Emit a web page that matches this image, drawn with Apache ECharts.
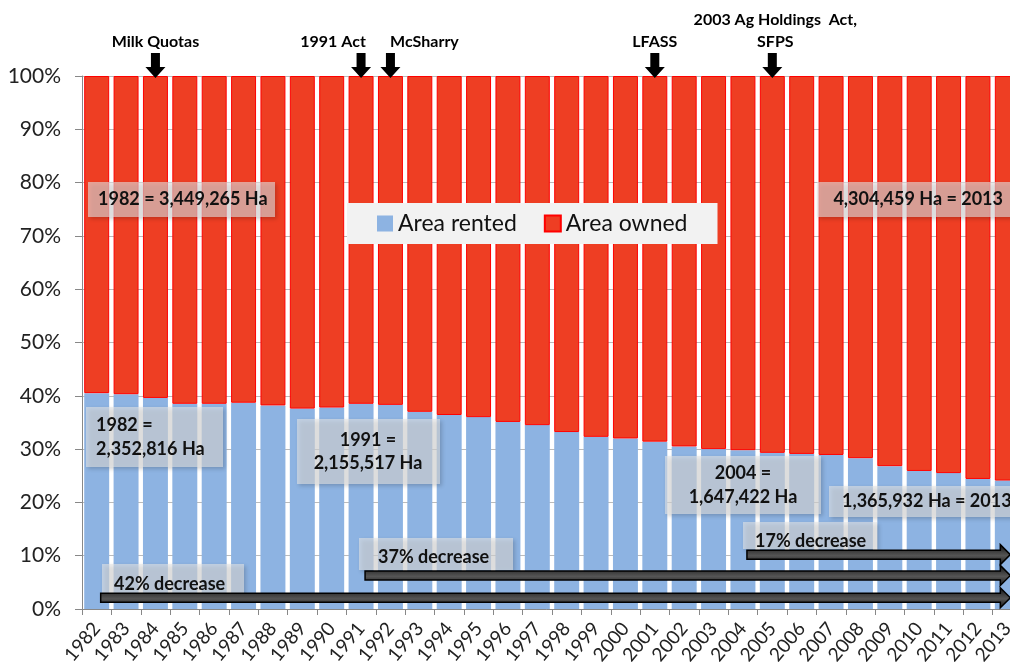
<!DOCTYPE html>
<html>
<head>
<meta charset="utf-8">
<script src="https://cdn.jsdelivr.net/npm/echarts@6/dist/echarts.min.js"></script>
<style>
html,body{margin:0;padding:0;background:#fff;}
#chart{width:1010px;height:671px;}
</style>
</head>
<body>
<div id="chart"></div>
<script>
const years = ['1982','1983','1984','1985','1986','1987','1988','1989','1990','1991','1992','1993','1994','1995','1996','1997','1998','1999','2000','2001','2002','2003','2004','2005','2006','2007','2008','2009','2010','2011','2012','2013'];
const rentedPct = [40.5,40.3,39.6,38.5,38.5,38.7,38.2,37.6,37.8,38.5,38.3,37.0,36.4,36.0,35.1,34.5,33.2,32.3,32.0,31.4,30.5,30.0,29.8,29.3,29.1,28.9,28.3,26.8,25.9,25.5,24.4,24.1];
const ownedPct = [59.5,59.7,60.4,61.5,61.5,61.3,61.8,62.4,62.2,61.5,61.7,63.0,63.6,64.0,64.9,65.5,66.8,67.7,68.0,68.6,69.5,70.0,70.2,70.7,70.9,71.1,71.7,73.2,74.1,74.5,75.6,75.9];
const yTicks = [0,10,20,30,40,50,60,70,80,90,100];
const events = [
  {year:'1984', lines:['Milk Quotas']},
  {year:'1991', lines:['1991 Act'], dx:-28},
  {year:'1992', lines:['McSharry'], dx:34},
  {year:'2001', lines:['LFASS']},
  {year:'2005', lines:['2003 Ag Holdings  Act,','SFPS']}
];
const decreases = [
  {from:'1982', to:'2013', y:2.1, label:'42% decrease'},
  {from:'1991', to:'2013', y:6.3, label:'37% decrease'},
  {from:'2004', to:'2013', y:10.2, label:'17% decrease'}
];

const FONT = 'Lato';
const chart = echarts.init(document.getElementById('chart'));
chart.setOption({
  animation:false,
  grid:{left:82, top:76, width:940, height:533, outerBoundsMode:'none', containLabel:false},
  legend:{
    left:347, top:203, padding:[9,30,9,30], itemGap:27,
    backgroundColor:'#f2f2f2', itemWidth:16, itemHeight:16, icon:'rect',
    textStyle:{fontFamily:FONT, fontSize:23, color:'#111'},
    data:['Area rented','Area owned']
  },
  xAxis:{
    type:'category', data:years,
    axisLine:{lineStyle:{color:'#888'}},
    axisTick:{show:true, length:6, lineStyle:{color:'#888'}},
    axisLabel:{rotate:50, fontFamily:FONT, fontSize:19, color:'#222', margin:16, interval:0}
  },
  yAxis:{
    type:'value', min:0, max:100, interval:10,
    axisLine:{show:true, lineStyle:{color:'#888'}},
    axisTick:{show:true, length:7, lineStyle:{color:'#888'}},
    splitLine:{lineStyle:{color:'#bbb'}},
    axisLabel:{formatter:'{value}%', fontFamily:FONT, fontSize:21, color:'#222', margin:21}
  },
  series:[
    {name:'Area rented', type:'bar', stack:'a', data:rentedPct, barCategoryGap:'15%',
     itemStyle:{color:'#8DB3E2'}},
    {name:'Area owned', type:'bar', stack:'a', data:ownedPct, barCategoryGap:'15%',
     itemStyle:{color:'#EE3E23', borderColor:'#FF0000', borderWidth:1}}
  ]
});

function px(cat, val){ return chart.convertToPixel({xAxisIndex:0,yAxisIndex:0},[cat,val]); }

const g = [];
events.forEach(e=>{
  const p = px(e.year, 100);
  const x = p[0], tip = p[1]+2;
  g.push({type:'polygon', shape:{points:[[x-4.5,tip-25],[x+4.5,tip-25],[x+4.5,tip-11],[x+10,tip-11],[x,tip],[x-10,tip-11],[x-4.5,tip-11]]},
    style:{fill:'#000'}, z:100});
  const n = e.lines.length;
  e.lines.forEach((t,i)=>{
    g.push({type:'text', x:x+(e.dx||0)+(n>1?3:0), y:tip-36-(n-1-i)*22, style:{text:t, fill:'#000', font:'bold 16px '+FONT, align:'center', verticalAlign:'middle'}, z:100});
  });
});
decreases.forEach(d=>{
  const a = px(d.from, d.y), b = px(d.to, d.y);
  const x0=a[0]+4, x1=b[0]+3, y=a[1], t=4.5, h=10, hl=10;
  g.push({type:'polygon', shape:{points:[[x0,y-t],[x1-hl,y-t],[x1-hl,y-h],[x1,y],[x1-hl,y+h],[x1-hl,y+t],[x0,y+t]]},
    style:{fill:new echarts.graphic.LinearGradient(0,0,0,1,[{offset:0,color:'#0a0a0a'},{offset:0.4,color:'#444'},{offset:0.55,color:'#555'},{offset:1,color:'#111'}]), stroke:'#000', lineWidth:1.5}, z:90});
});
const boxes = [
  {x:88,y:182,w:187,h:35, lines:['1982 = 3,449,265 Ha'], tx:98, align:'left'},
  {x:817,y:182,w:210,h:35, lines:['4,304,459 Ha = 2013'], tx:1003, align:'right'},
  {x:86,y:407,w:137,h:60, lines:['1982 =','2,352,816 Ha'], tx:96, align:'left'},
  {x:297,y:419,w:143,h:65, lines:['1991 =','2,155,517 Ha'], tx:368, align:'center'},
  {x:665,y:456,w:156,h:58, lines:['2004 =','1,647,422 Ha'], tx:743, align:'center'},
  {x:829,y:486,w:200,h:31, lines:['1,365,932 Ha = 2013'], tx:842, align:'left'},
  {x:359,y:538,w:154,h:32, lines:['37% decrease'], tx:378, align:'left', ty:557},
  {x:743,y:522,w:134,h:27, lines:['17% decrease'], tx:755, align:'left', ty:541},
  {x:102,y:564,w:142,h:29, lines:['42% decrease'], tx:114, align:'left', ty:584}
];
boxes.forEach(b=>{
  g.push({type:'rect', shape:{x:b.x,y:b.y,width:b.w,height:b.h},
    style:{fill:'rgba(228,228,228,0.6)', shadowBlur:4, shadowOffsetX:2, shadowOffsetY:2, shadowColor:'rgba(0,0,0,0.3)'}, z:80});
  const n=b.lines.length, cy = b.ty || (b.y+b.h/2);
  b.lines.forEach((t,i)=>{
    g.push({type:'text', x:b.tx, y:cy+(i-(n-1)/2)*23.5, style:{text:t, fill:'#111', font:'bold 18px '+FONT, align:b.align, verticalAlign:'middle'}, z:85});
  });
});
chart.setOption({graphic:g});
</script>
</body>
</html>
